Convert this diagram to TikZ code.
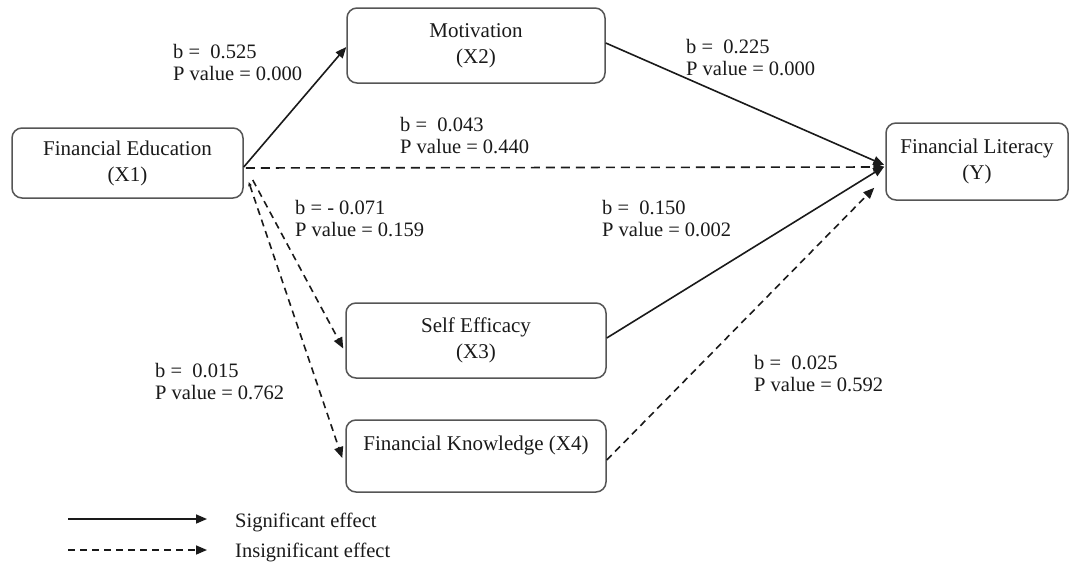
\documentclass[tikz,border=0pt]{standalone}
\usepackage{fontspec}
\setmainfont{Liberation Serif}
\usetikzlibrary{arrows.meta,calc}
\definecolor{boxgray}{HTML}{555555}
\definecolor{txt}{HTML}{1A1A1A}
\definecolor{ln}{HTML}{1A1A1A}
\begin{document}
\begin{tikzpicture}[x=1pt,y=-1pt,
  box/.style={draw=boxgray, line width=1.5pt, rounded corners=10pt, align=center,
    inner sep=0pt, font=\fontsize{21}{26}\selectfont, text=txt},
  lbl/.style={anchor=west, align=left, inner sep=0pt,
    font=\fontsize{20.5}{22}\selectfont, text=txt},
  sig/.style={draw=ln, line width=1.6pt, -{Triangle[length=11pt,width=9pt]}},
  insig/.style={sig, dash pattern=on 7pt off 5pt},
]
\fill[white] (0,0) rectangle (1074,562);
\useasboundingbox (0,0) rectangle (1074,562);

% boxes
\node[box, minimum width=231pt, minimum height=70pt] (X1) at (127.5,163) {Financial Education\\(X1)};
\node[box, minimum width=258pt, minimum height=75pt] (X2) at (476,45.5) {Motivation\\(X2)};
\node[box, minimum width=182pt, minimum height=77pt] (Y) at (977,161.5) {Financial Literacy\\(Y)};
\node[box, minimum width=260pt, minimum height=75pt] (X3) at (476,340.5) {Self Efficacy\\(X3)};
\node[box, minimum width=260pt, minimum height=72pt] (X4) at (476,456) {Financial Knowledge (X4)\\\mbox{}};

% connectors
\draw[sig] ($(X1.east)+(0,4)$) -- ($(X2.west)+(0,1.5)$);
\draw[insig, dash pattern=on 9pt off 6pt] ($(X1.east)+(2,5)$) -- ($(Y.west)+(-1,5.5)$);
\draw[sig] ($(X2.east)+(0,-2.5)$) -- ($(Y.west)+(-1,3.5)$);
\draw[sig] ($(X3.east)+(0,-2.5)$) -- ($(Y.west)+(-1,5)$);
\draw[insig] ($(X4.east)+(0,4)$) -- ($(Y.south west)+(-11,-13)$);
\draw[insig] ($(X1.east)+(9,17)$) -- ($(X3.west)+(-2,8)$);
\draw[insig, {Triangle[length=4pt,width=3.5pt]}-{Triangle[length=11pt,width=9pt]}] ($(X1.east)+(5,19)$) -- ($(X4.west)+(-3,2)$);

% labels
\node[lbl] (L525) at (173,63) {b = \ 0.525\\P value = 0.000};
\node[lbl] (L225) at (686,58) {b = \ 0.225\\P value = 0.000};
\node[lbl] (L043) at (400,136) {b = \ 0.043\\P value = 0.440};
\node[lbl] (L071) at (295,219) {b = - 0.071\\P value = 0.159};
\node[lbl] (L150) at (602,219) {b = \ 0.150\\P value = 0.002};
\node[lbl] (L015) at (155,382) {b = \ 0.015\\P value = 0.762};
\node[lbl] (L025) at (754,374) {b = \ 0.025\\P value = 0.592};

% legend
\coordinate (s1) at (68,519);
\coordinate (s2) at (207,519);
\coordinate (d1) at (68,550);
\coordinate (d2) at (207,550);
\draw[sig] (s1) -- (s2);
\draw[insig] (d1) -- (d2);
\node[lbl] (leg1) at (235,522) {Significant effect};
\node[lbl] (leg2) at (235,552) {Insignificant effect};
\end{tikzpicture}
\end{document}
